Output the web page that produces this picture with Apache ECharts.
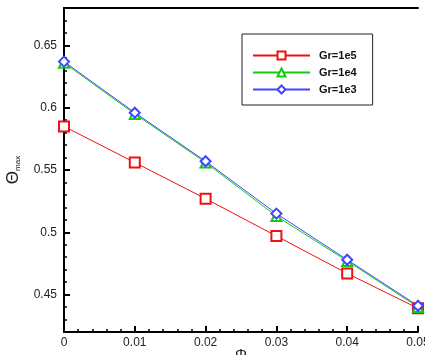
<!DOCTYPE html>
<html>
<head>
<meta charset="utf-8">
<script src="https://cdn.jsdelivr.net/npm/echarts@6/dist/echarts.min.js"></script>
<style>
  html, body { margin: 0; padding: 0; background: #fff; }
  #chart { width: 425px; height: 355px; }
</style>
</head>
<body>
<div id="chart"></div>
<script>
const phi = [0, 0.01, 0.02, 0.03, 0.04, 0.05];
const gr1e5 = [0.585, 0.556, 0.527, 0.497, 0.467, 0.439];
const gr1e4 = [0.636, 0.595, 0.556, 0.513, 0.477, 0.440];
const gr1e3 = [0.637, 0.596, 0.557, 0.515, 0.478, 0.441];
const yMajorTicks = [0.45, 0.5, 0.55, 0.6, 0.65];
const yMinorTicks = [0.43, 0.44, 0.46, 0.47, 0.48, 0.49, 0.51, 0.52, 0.53, 0.54,
  0.56, 0.57, 0.58, 0.59, 0.61, 0.62, 0.63, 0.64, 0.66, 0.67];

const font = '"Liberation Sans", Arial, sans-serif';
const chart = echarts.init(document.getElementById('chart'));

function lineSeries(name, values, symbol, color) {
  return {
    name: name,
    type: 'line',
    data: phi.map((x, i) => [x, values[i]]),
    symbol: symbol,
    symbolSize: 10,
    showAllSymbol: true,
    lineStyle: { color: color, width: 1 },
    itemStyle: { color: color, borderColor: color, borderWidth: 1 },
    emphasis: { disabled: true },
    z: 5
  };
}

// plain lines closing the box on top and right
const frameAxis = {
  type: 'value',
  axisLine: { show: true, lineStyle: { color: '#000', width: 2 } },
  axisTick: { show: false },
  axisLabel: { show: false },
  splitLine: { show: false }
};

chart.setOption({
  animation: false,
  grid: {
    left: 64, right: 7, top: 8, bottom: 23,
    outerBoundsMode: 'none',
    containLabel: false
  },
  legend: {
    orient: 'vertical',
    left: 242, top: 34,
    padding: [16, 16, 10, 10],
    borderColor: '#222', borderWidth: 1,
    itemWidth: 57, itemHeight: 10, itemGap: 6,
    textStyle: { fontFamily: font, fontSize: 11, fontWeight: 'bold', color: '#111', padding: [0, 0, 0, 4] },
    data: ['Gr=1e5', 'Gr=1e4', 'Gr=1e3']
  },
  xAxis: [{
    type: 'value',
    min: 0, max: 0.05, interval: 0.01,
    name: 'Φ', nameLocation: 'middle', nameGap: 15, nameMoveOverlap: false,
    nameTextStyle: { fontFamily: font, fontSize: 15, color: '#222', verticalAlign: 'top' },
    axisLine: { show: true, onZero: false, lineStyle: { color: '#000', width: 2 } },
    axisTick: { show: true, inside: true, length: 6, lineStyle: { color: '#000', width: 2 } },
    minorTick: { show: true, splitNumber: 5, length: 3, lineStyle: { color: '#000', width: 1.5 } },
    axisLabel: {
      fontFamily: font, fontSize: 12, color: '#222', margin: 5,
      formatter: v => String(Number(v.toFixed(2)))
    },
    splitLine: { show: false }
  }, Object.assign({ position: 'top', min: 0, max: 0.05 }, frameAxis)],
  yAxis: [{
    type: 'value',
    min: 0.42, max: 0.68,
    name: '{a|Θ}{b|max}', nameLocation: 'middle', nameGap: 42, nameRotate: 90, nameMoveOverlap: false,
    nameTextStyle: {
      rich: {
        a: { fontFamily: font, fontSize: 17, color: '#222' },
        b: { fontFamily: font, fontSize: 8, color: '#222', padding: [8, 0, 0, 0] }
      }
    },
    axisLine: { show: true, onZero: false, lineStyle: { color: '#000', width: 2 } },
    axisTick: { show: true, inside: true, length: 6, customValues: yMajorTicks, lineStyle: { color: '#000', width: 2 } },
    axisLabel: {
      fontFamily: font, fontSize: 12, color: '#222', margin: 7,
      customValues: yMajorTicks,
      formatter: v => String(Number(v.toFixed(2)))
    },
    splitLine: { show: false }
  }, {
    type: 'value',
    position: 'left',
    min: 0.42, max: 0.68,
    axisLine: { show: false },
    axisTick: { show: true, inside: true, length: 3, customValues: yMinorTicks, lineStyle: { color: '#000', width: 1.5 } },
    axisLabel: { show: false },
    splitLine: { show: false }
  }, Object.assign({ position: 'right', min: 0.42, max: 0.68 }, frameAxis)],
  series: [
    lineSeries('Gr=1e5', gr1e5, 'emptyRect', '#ee1111'),
    lineSeries('Gr=1e4', gr1e4, 'emptyTriangle', '#11cc11'),
    lineSeries('Gr=1e3', gr1e3, 'emptyDiamond', '#4444ff')
  ]
});
</script>
</body>
</html>
